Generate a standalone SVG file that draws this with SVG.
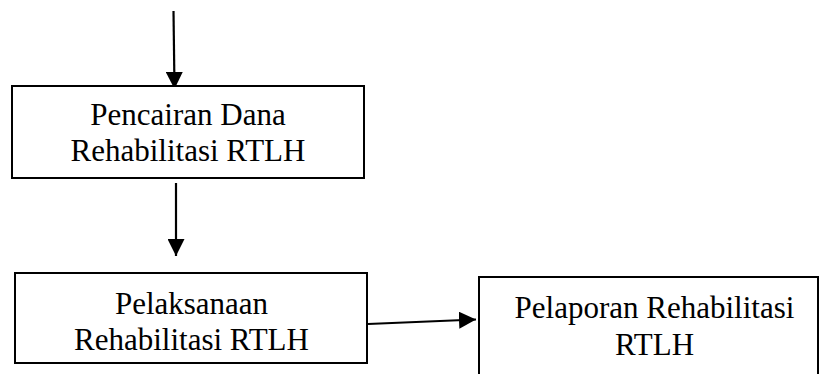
<svg xmlns="http://www.w3.org/2000/svg" width="819" height="374" viewBox="0 0 819 374">
<defs>
<style>
.box{fill:#fff;stroke:#000;stroke-width:2}
.lbl{font-family:"Liberation Serif","Times New Roman",serif;font-size:31px;fill:#000;text-anchor:middle}
.con{stroke:#000;stroke-width:2.2;fill:none}
</style>
<marker id="ah" markerUnits="userSpaceOnUse" markerWidth="17" markerHeight="17" viewBox="0 0 16 16" refX="16" refY="8" orient="auto">
<path d="M0,0 L16,8 L0,16 Z" fill="#000"/>
</marker>
</defs>
<rect width="819" height="374" fill="#fff"/>
<g id="connectors">
<line class="con" x1="173.5" y1="11" x2="174.5" y2="89" marker-end="url(#ah)"/>
<line class="con" x1="176" y1="183" x2="176" y2="256" marker-end="url(#ah)"/>
<line class="con" x1="368" y1="324" x2="476" y2="319.5" marker-end="url(#ah)"/>
</g>
<g id="node-pencairan">
<rect class="box" x="12" y="86" width="352" height="92"/>
<text class="lbl" x="188" y="125">Pencairan Dana</text>
<text class="lbl" x="188" y="161">Rehabilitasi RTLH</text>
</g>
<g id="node-pelaksanaan">
<rect class="box" x="15" y="273" width="352" height="90"/>
<text class="lbl" x="191.5" y="314">Pelaksanaan</text>
<text class="lbl" x="191.5" y="350">Rehabilitasi RTLH</text>
</g>
<g id="node-pelaporan">
<rect class="box" x="479" y="277" width="339" height="110"/>
<text class="lbl" x="654.5" y="318">Pelaporan Rehabilitasi</text>
<text class="lbl" x="654.5" y="355">RTLH</text>
</g>
</svg>
